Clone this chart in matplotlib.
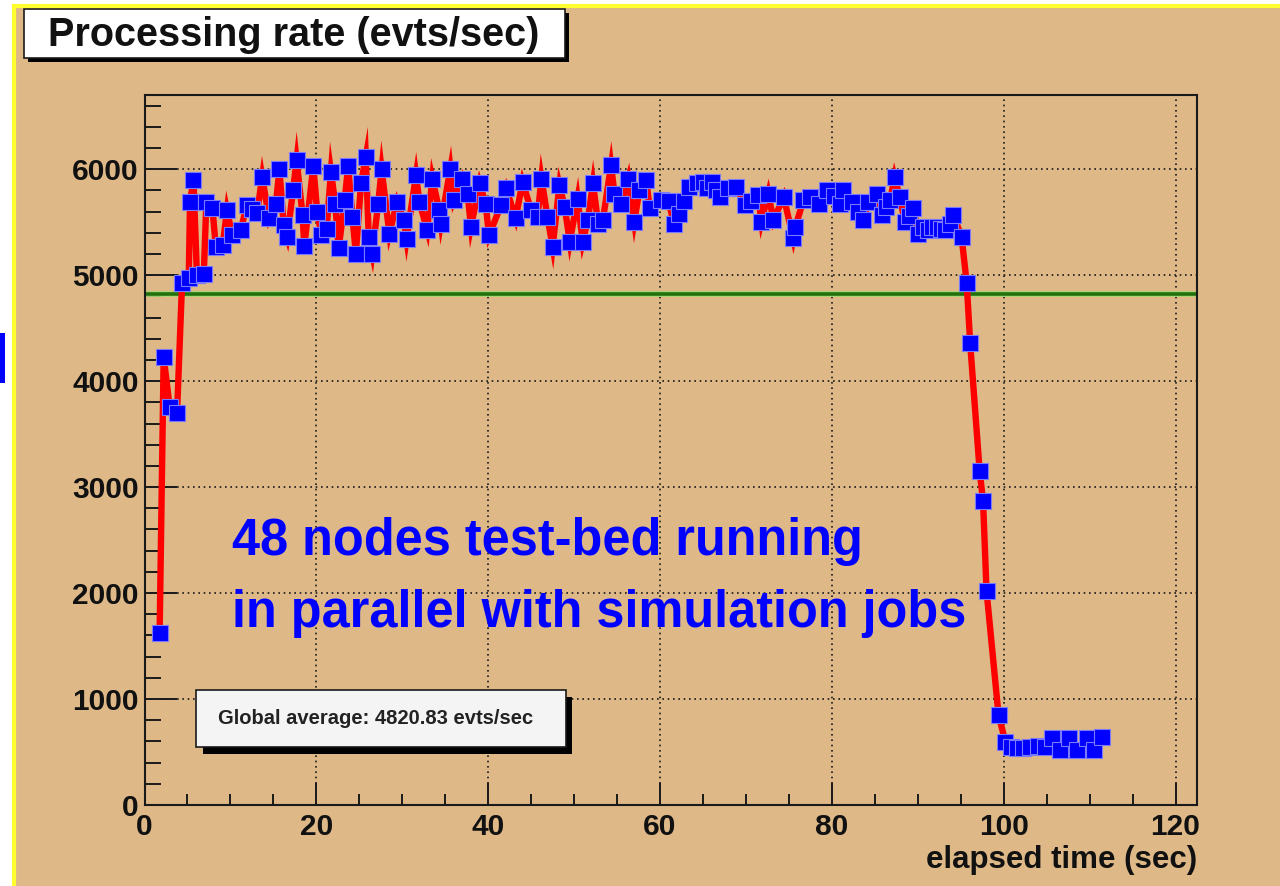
import numpy as np
import matplotlib
matplotlib.use('Agg')
import matplotlib.pyplot as plt
from matplotlib.patches import Rectangle, Polygon
from matplotlib.lines import Line2D
from matplotlib.ticker import MultipleLocator

plt.rcParams['font.family'] = ['Liberation Sans', 'DejaVu Sans']

# elapsed time (sec) / processing rate (evts/sec)
t = [1.76, 2.23, 2.93, 3.79, 4.37, 5.15, 5.3, 5.7, 6.1, 6.9,
     7.2, 7.9, 8.3, 9.1, 9.6, 10.2, 11.2, 11.9, 12.5, 13.1,
     13.7, 14.5, 15.3, 15.7, 16.2, 16.6, 17.3, 17.7, 18.4, 18.6,
     19.65, 20.1, 20.6, 21.2, 21.7, 22.2, 22.6, 23.3, 23.7, 24.2,
     24.6, 25.2, 25.75, 26.1, 26.5, 27.2, 27.6, 28.5, 29.4, 30.2,
     30.5, 31.6, 32.0, 32.9, 33.5, 34.3, 34.5, 35.6, 36.0, 37.0,
     37.6, 38.0, 39.0, 39.7, 40.1, 41.5, 42.1, 43.2, 44.0, 45.0,
     45.75, 46.2, 46.9, 47.5, 48.3, 48.9, 49.5, 50.4, 51.0, 51.6,
     52.2, 52.8, 53.35, 54.3, 54.7, 55.5, 56.3, 57.0, 57.6, 58.4,
     58.8, 60.15, 61.0, 61.6, 62.2, 62.8, 63.4, 64.25, 65.0, 65.5,
     66.0, 66.5, 67.0, 67.95, 68.9, 69.9, 70.6, 71.4, 71.8, 72.6,
     73.2, 74.4, 75.5, 75.75, 76.7, 77.5, 78.45, 79.4, 80.2, 81.0,
     81.3, 82.3, 83.0, 83.65, 84.25, 85.2, 85.8, 86.3, 86.8, 87.3,
     87.9, 88.5, 89.0, 89.5, 90.05, 90.6, 91.2, 91.7, 92.2, 92.7,
     93.2, 93.7, 94.15, 95.1, 95.7, 96.1, 97.2, 97.6, 98.0, 99.4,
     100.2, 100.9, 101.5, 102.3, 103.1, 104.0, 104.8, 105.6, 106.6, 107.6,
     108.5, 109.7, 110.5, 111.5]
rate = [1620, 4224, 3758, 3701, 4927, 4969, 5692, 5902, 5000, 5010,
        5692, 5638, 5267, 5283, 5613, 5377, 5425, 5660, 5620, 5582,
        5927, 5535, 5676, 5997, 5472, 5362, 5802, 6085, 5566, 5274,
        6028, 5597, 5377, 5440, 5975, 5676, 5252, 5708, 6028, 5550,
        5204, 5865, 6116, 5362, 5204, 5676, 5997, 5393, 5692, 5519,
        5340, 5943, 5692, 5425, 5912, 5613, 5487, 6006, 5708, 5912,
        5770, 5456, 5865, 5676, 5377, 5660, 5818, 5535, 5880, 5613,
        5550, 5912, 5550, 5267, 5849, 5645, 5315, 5723, 5315, 5519,
        5865, 5487, 5519, 6038, 5770, 5676, 5912, 5503, 5802, 5896,
        5629, 5708, 5700, 5487, 5580, 5700, 5833, 5865, 5880, 5820,
        5880, 5800, 5739, 5818, 5833, 5660, 5700, 5755, 5503, 5770,
        5519, 5739, 5346, 5456, 5708, 5739, 5676, 5802, 5750, 5676,
        5802, 5692, 5600, 5519, 5692, 5770, 5566, 5640, 5708, 5927,
        5739, 5503, 5560, 5629, 5393, 5450, 5425, 5450, 5456, 5440,
        5425, 5480, 5566, 5362, 4922, 4356, 3156, 2866, 2024, 849,
        597, 545, 535, 538, 550, 560, 550, 629, 519, 632,
        519, 632, 519, 645]
global_avg = 4820.83

title = 'Processing rate (evts/sec)'
note_lines = ['48 nodes test-bed running', 'in parallel with simulation jobs']
avg_label = 'Global average: %.2f evts/sec' % global_avg
xlabel = 'elapsed time (sec)'

W, H = 1280, 886
TAN = '#deb887'


def fx(px):
    return px / W


def fy(py):
    return 1 - py / H


def add_box(fig, x0, y0, x1, y1, **kw):
    # rectangle given in image pixels, y measured from the top
    fig.add_artist(Rectangle((fx(x0), fy(y1)), fx(x1) - fx(x0), fy(y0) - fy(y1),
                             transform=fig.transFigure, **kw))


def miter_spikes(ax, x, y, width_px, limit=10, **kw):
    # ROOT draws the thick polyline with miter joins -> spikes at sharp turns
    pts = ax.transData.transform(np.column_stack([x, y]))
    h = width_px / 2.0
    inv = ax.transData.inverted()
    for i in range(1, len(pts) - 1):
        d1 = pts[i] - pts[i - 1]
        d2 = pts[i + 1] - pts[i]
        l1, l2 = np.hypot(*d1), np.hypot(*d2)
        if l1 == 0 or l2 == 0:
            continue
        d1, d2 = d1 / l1, d2 / l2
        n1 = np.array([-d1[1], d1[0]])
        n2 = np.array([-d2[1], d2[0]])
        denom = 1 + n1 @ n2
        if denom < 1e-9:
            continue
        m = (n1 + n2) * h / denom
        if np.hypot(*m) / h > limit:
            continue
        s = -1 if d1[0] * d2[1] - d1[1] * d2[0] > 0 else 1
        poly = np.array([pts[i], pts[i] + s * n1 * h, pts[i] + s * m, pts[i] + s * n2 * h])
        ax.add_patch(Polygon(inv.transform(poly), closed=True, **kw))


fig = plt.figure(figsize=(12.8, 8.86), dpi=100, facecolor='white')

# tan slide background with the yellow frame on top/left
add_box(fig, 16, 8, W, H, facecolor=TAN, edgecolor='none', zorder=0)
fig.add_artist(Line2D([fx(14), fx(14)], [0, fy(6)], transform=fig.transFigure,
                      color='#ffff30', lw=3))
fig.add_artist(Line2D([fx(14), 1], [fy(6), fy(6)], transform=fig.transFigure,
                      color='#ffff30', lw=3))
add_box(fig, 0, 333, 5, 383, facecolor='#0000ff', edgecolor='none')

ax = fig.add_axes([fx(144.5), fy(805), fx(1197) - fx(144.5), fy(95) - fy(805)])
ax.patch.set_alpha(0)
ax.set_xlim(0, 122.5)
ax.set_ylim(0, 6700)

ax.xaxis.set_major_locator(MultipleLocator(20))
ax.xaxis.set_minor_locator(MultipleLocator(5))
ax.yaxis.set_major_locator(MultipleLocator(1000))
ax.yaxis.set_minor_locator(MultipleLocator(200))
ax.tick_params(axis='both', which='both', direction='in', color='#1a1a1a', width=1.4,
               top=False, right=False)
ax.tick_params(axis='y', which='major', length=23, pad=4, labelsize=21.5)
ax.tick_params(axis='y', which='minor', length=11.5)
ax.tick_params(axis='x', which='major', length=16, pad=6, labelsize=21.5)
ax.tick_params(axis='x', which='minor', length=8)
for lab in ax.get_xticklabels() + ax.get_yticklabels():
    lab.set_fontweight('bold')
    lab.set_color('#111111')
for sp in ax.spines.values():
    sp.set_linewidth(1.5)
    sp.set_color('#1a1a1a')

ax.set_axisbelow(True)
ax.grid(True, which='major', color='#1a1a1a', lw=1.2, ls=(0, (1, 2.2)))

ax.axhline(global_avg, color='#a8d870', lw=4.2, zorder=2)
ax.axhline(global_avg, color='#23700f', lw=2.6, zorder=2.1)

ax.plot(t, rate, color='#ff0000', lw=4.6, zorder=3, solid_joinstyle='round')
miter_spikes(ax, t, rate, 6.4, facecolor='#ff0000', edgecolor='none', zorder=3)
ax.plot(t, rate, 's', ms=11, mfc='#0000ff', mec='#7a7aff', mew=0.8, zorder=4)

# blue annotation
ax.text(fx(232), fy(541), note_lines[0], transform=fig.transFigure, color='#0000ff',
        fontsize=36.4, fontweight='bold', va='center', ha='left', zorder=6)
ax.text(fx(232), fy(613), note_lines[1], transform=fig.transFigure, color='#0000ff',
        fontsize=36.4, fontweight='bold', va='center', ha='left', zorder=6)

# title box with shadow
add_box(fig, 28, 13, 569, 62, facecolor='black', edgecolor='none')
add_box(fig, 24, 9, 565, 58, facecolor='white', edgecolor='#1a1a1a', lw=1.2)
fig.text(fx(294), fy(35), title, fontsize=28.5, fontweight='bold', color='#111111',
         ha='center', va='center')

# global average box with shadow
add_box(fig, 203, 697, 572, 754, facecolor='black', edgecolor='none')
add_box(fig, 196, 690, 566, 747, facecolor='#f4f4f4', edgecolor='#1a1a1a', lw=1.2)
fig.text(fx(218), fy(718), avg_label, fontsize=14.5, fontweight='bold', color='#222222',
         ha='left', va='center')

fig.text(fx(1197), fy(860), xlabel, fontsize=22.5, fontweight='bold', color='#111111',
         ha='right', va='center')

fig.savefig('out.png', dpi=100, facecolor=fig.get_facecolor())
